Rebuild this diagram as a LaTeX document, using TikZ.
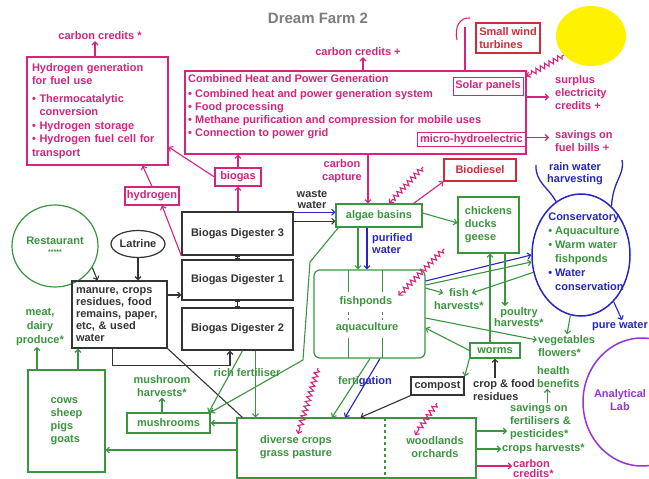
\documentclass[tikz,border=0pt]{standalone}
\usepackage{fontspec}
\setmainfont{Liberation Sans}
\usetikzlibrary{arrows.meta,shapes.geometric,decorations.pathmorphing}

\definecolor{fpink}{RGB}{214,36,124}
\definecolor{fgreen}{RGB}{58,150,62}
\definecolor{fblue}{RGB}{38,38,196}
\definecolor{fdark}{RGB}{52,52,52}
\definecolor{fred}{RGB}{206,44,58}
\definecolor{fpurple}{RGB}{150,52,214}
\definecolor{fgray}{RGB}{125,125,125}
\definecolor{fsun}{RGB}{255,242,0}

\tikzstyle{tS}=[inner sep=1pt, font=\fontsize{11}{13}\selectfont\bfseries, align=left]
\tikzstyle{pT}=[tS, text=fpink]
\tikzstyle{gT}=[tS, text=fgreen]
\tikzstyle{bT}=[tS, text=fblue]
\tikzstyle{kT}=[tS, text=fdark]
\tikzstyle{pB}=[pT, draw=fpink, line width=1.2pt, inner sep=2pt]
\tikzstyle{gB}=[gT, draw=fgreen, line width=1.2pt, inner sep=2pt]
\tikzstyle{kB}=[kT, draw=fdark, line width=1.4pt, inner sep=2pt]
\tikzstyle{rB}=[tS, text=fred, draw=fred, line width=1.2pt, inner sep=2pt]
\tikzstyle{arr}=[line width=1.1pt, -{Straight Barb[length=3pt,width=6pt]}]
\tikzstyle{pA}=[arr, draw=fpink]
\tikzstyle{gA}=[arr, draw=fgreen]
\tikzstyle{bA}=[arr, draw=fblue]
\tikzstyle{kA}=[arr, draw=fdark]
\tikzstyle{kL}=[line width=1.1pt, draw=fdark]
\tikzstyle{zA}=[pA, decorate, decoration={zigzag, segment length=5pt, amplitude=2.5pt, pre length=2pt, post length=5pt}]

\begin{document}
\begin{tikzpicture}[x=1pt,y=-1pt]
\useasboundingbox (0,0) rectangle (649,479);
\fill[white] (0,0) rectangle (649,479);
\clip (0,0) rectangle (649,479);

% title
\draw (318,18) node[tS, text=fgray, font=\fontsize{15}{18}\selectfont\bfseries] (title) {Dream Farm 2};

% hydrogen generation
\draw (100,36) node[pT] (cc1) {carbon credits *};
\draw (97.5,111) node[pB, inner xsep=5pt, text width=131pt, minimum width=141pt, minimum height=108pt, font=\fontsize{11}{13.5}\selectfont\bfseries] (hgen) {Hydrogen generation\\for fuel use\\[4pt]\textbullet\ Thermocatalytic\\\hphantom{\textbullet\ }conversion\\\textbullet\ Hydrogen storage\\\textbullet\ Hydrogen fuel cell for\\transport};

% combined heat and power
\draw (355.5,112.5) node[draw=fpink, line width=1.2pt, minimum width=341pt, minimum height=83pt] (chp) {};
\draw (187,73) node[pT, anchor=north west] (chptxt) {Combined Heat and Power Generation\\[2pt]\textbullet\ Combined heat and power generation system\\\textbullet\ Food processing\\\textbullet\ Methane purification and compression for mobile uses\\\textbullet\ Connection to power grid};
\draw (358,52) node[pT] (cc2) {carbon credits +};
\draw (488,86) node[pB, line width=1pt, minimum width=70pt, minimum height=18pt] (solar) {Solar panels};
\draw (471.5,139.5) node[pB, line width=1pt, inner ysep=0pt, minimum width=109pt, minimum height=14pt] (micro) {micro-hydroelectric};

% wind and sun
\draw (508,38) node[rB, minimum width=64pt, minimum height=30pt] (wind) {Small wind\\turbines};
\draw (591,36) node[ellipse, fill=fsun, minimum width=70pt, minimum height=60pt] (sun) {};
\draw (554,93) node[pT, anchor=west] (surplus) {surplus\\electricity\\credits +};
\draw (554,141.5) node[pT, anchor=west] (fuel) {savings on\\fuel bills +};
\coordinate (mast) at (465,27);
\draw[fpink, line width=1.1pt] ([xshift=109.5pt]chp.north) -- (mast);
\draw[fpink, line width=1.1pt] (470,18) .. controls (460,17) and (454,27) .. (457,40);

% biogas, hydrogen, biodiesel
\draw (480,170) node[rB, minimum width=72pt, minimum height=22pt] (bio) {Biodiesel};
\draw (342,171) node[pT, align=center] (capt) {carbon\\capture};
\draw (238,177) node[pB, minimum width=46pt, minimum height=18pt] (biogas) {biogas};
\draw (152,196) node[pB, minimum width=50pt, minimum height=18pt] (hyd) {hydrogen};

% digesters
\draw (237.5,233.5) node[kB, minimum width=111pt, minimum height=43pt] (bd3) {Biogas Digester 3};
\draw (237.5,280) node[kB, minimum width=111pt, minimum height=40pt] (bd1) {Biogas Digester 1};
\draw (237.5,329) node[kB, minimum width=111pt, minimum height=42pt] (bd2) {Biogas Digester 2};
\draw (312,199) node[kT, align=center, font=\fontsize{11}{11}\selectfont\bfseries] (waste) {waste\\water};

% algae and fishponds
\draw (379,215.5) node[gB, minimum width=86pt, minimum height=23pt] (algae) {algae basins};
\draw (371,244) node[bT, anchor=west, font=\fontsize{11}{12}\selectfont\bfseries] (pur) {purified\\water};
\draw (369.5,314) node[draw=fgreen, line width=1.2pt, rounded corners=6pt, minimum width=111pt, minimum height=88pt] (fish) {};
\draw (366,302) node[gT] (fp1) {fishponds};
\draw (367,328) node[gT] (fp2) {aquaculture};
\draw[fgreen, line width=1pt] (348,270) -- (348,292) (382,270) -- (382,292);
\draw[fgreen, line width=1pt, dashed] (348,312) -- (348,320) (382,312) -- (382,320);
\draw[fgreen, line width=1pt] (348,338) -- (348,358) (382,338) -- (382,358);

% restaurant, latrine, manure
\draw (55,246) node[ellipse, draw=fgreen, line width=1.2pt, minimum width=86pt, minimum height=82pt, gT, align=center] (rest) {Restaurant\\[-3pt]{\scriptsize *****}};
\draw (138,244) node[ellipse, draw=fdark, line width=1.2pt, minimum width=54pt, minimum height=27pt, kT, inner sep=0pt] (latr) {Latrine};
\draw (119.5,314.5) node[kB, inner xsep=4pt, text width=87pt, minimum width=95pt, minimum height=67pt, font=\fontsize{11}{12}\selectfont\bfseries] (manure) {manure, crops\\residues, food\\remains, paper,\\etc, \& used\\water};

% animals and mushrooms
\draw (66.5,421) node[gB, minimum width=77pt, minimum height=102pt] (cows) {cows\\sheep\\pigs\\goats};
\draw (40,327) node[gT, align=center, font=\fontsize{11}{14}\selectfont\bfseries] (meat) {meat,\\dairy\\produce*};
\draw (168.5,423) node[gB, minimum width=83pt, minimum height=20pt] (mush) {mushrooms};
\draw (162,386) node[gT, align=center] (mharv) {mushroom\\harvests*};
\draw (247,373) node[gT] (rich) {rich fertiliser};

% crops
\draw (356.5,448) node[draw=fgreen, line width=1.2pt, minimum width=239pt, minimum height=60pt] (crops) {};
\draw[fgreen, line width=1.2pt, dashed] (385,418) -- (385,478);
\draw (296,447) node[gT, align=center] (div) {diverse crops\\grass pasture};
\draw (435,447) node[gT, align=center] (wood) {woodlands\\orchards};
\draw (365,382) node[tS] (fert) {\textcolor{fgreen}{ferti}\textcolor{fblue}{gation}};
\draw (437.5,386) node[kB, minimum width=53pt, minimum height=18pt] (comp) {compost};
\draw (472,390) node[kT, anchor=west] (resid) {crop \& food\\residues};
\draw (495,350.5) node[gB, inner ysep=0pt, minimum width=50pt, minimum height=15pt] (worms) {worms};

% chickens
\draw (488.5,225) node[gB, minimum width=61pt, minimum height=56pt] (chick) {chickens\\ducks\\geese};
\draw (459,299) node[gT, align=center] (fishh) {fish\\harvests*};
\draw (519,317) node[gT, align=center, font=\fontsize{11}{11.5}\selectfont\bfseries] (poul) {poultry\\harvests*};

% conservatory
\draw (581,255) node[ellipse, draw=fblue, line width=1.5pt, minimum width=98pt, minimum height=122pt] (cons) {};
\draw (586,252) node[tS, font=\fontsize{11}{14}\selectfont\bfseries] (constxt) {\textcolor{fblue}{Conservatory}\\\textcolor{fgreen}{\textbullet\ Aquaculture}\\\textcolor{fgreen}{\textbullet\ Warm water}\\\textcolor{fgreen}{\hphantom{\textbullet\ }fishponds}\\\textcolor{fblue}{\textbullet\ Water}\\\textcolor{fblue}{\hphantom{\textbullet\ }conservation}};
\draw (575,174) node[bT, align=center, font=\fontsize{11}{12}\selectfont\bfseries] (rain) {rain water\\harvesting};
\coordinate (gutL) at (536,165);
\coordinate (gutR) at (622,160);
\draw[fblue, line width=1.3pt] (gutL) .. controls (535,182) and (549,188) .. (cons.115);
\draw[fblue, line width=1.3pt] (gutR) .. controls (625,175) and (613,180) .. (cons.58);
\draw (620,326) node[bT] (pure) {pure water};
\draw (537,346) node[gT, anchor=west] (veg) {vegetables\\flowers*};
\draw (536,377) node[gT, anchor=west] (health) {health\\benefits};
\draw (509,422) node[gT, anchor=west] (sav) {savings on\\fertilisers \&\\pesticides*};
\draw (501,449) node[gT, anchor=west] (charv) {crops harvests*};
\draw (512,469) node[pT, anchor=west, font=\fontsize{11}{10}\selectfont\bfseries] (cc3) {carbon\\credits*};

% analytical lab
\draw (642,402) node[ellipse, draw=fpurple, line width=1.5pt, minimum width=118pt, minimum height=128pt] (lab) {};
\draw (620,400) node[tS, text=fpurple, align=center] (labtxt) {Analytical\\Lab};

% pink connectors
\draw[pA] ([xshift=-2.5pt]hgen.north) -- ([xshift=-2.5pt]hgen.north |- cc1.south);
\draw[pA] ([xshift=7.5pt]chp.north) -- ([xshift=7.5pt]chp.north |- cc2.south);
\draw[pA, shorten >=5pt] ([yshift=15.5pt]chp.east) -- ([yshift=15.5pt]chp.east -| surplus.west);
\draw[pA, shorten >=5pt] ([yshift=2pt]micro.east) -- ([yshift=2pt]micro.east -| fuel.west);
\draw[pA] ([xshift=12.5pt]chp.south) -- ([xshift=12.5pt]chp.south |- algae.north);
\draw[pA] ([xshift=-9pt]algae.north east) -- (bio.south west);
\draw[pA] (biogas.south |- bd3.north) -- (biogas.south);
\draw[pA] (biogas.north) -- (biogas.north |- chp.south);
\draw[pA] (biogas.west) -- ([yshift=-36pt]hgen.east);
\draw[pA] (hyd.north) -- ([xshift=45pt]hgen.south);
\draw[pA] (bd3.south west) -- ([xshift=10pt]hyd.south);
\draw[pA] ([yshift=-18pt]crops.east) -- ([yshift=-18pt]crops.east -| cc3.west);

% sunlight
\coordinate (ray1) at (423,167);
\coordinate (ray2) at (444,249);
\coordinate (ray3) at (318,368);
\coordinate (ray4) at (437,403);
\draw[zA] (sun.215) -- ([xshift=3pt]solar.north east);
\draw[zA] (ray1) -- ([xshift=10pt]algae.north);
\draw[zA] (ray2) -- ([xshift=5pt]fp1.north east);
\draw[zA] (ray3) -- ([xshift=2pt]div.north);
\draw[zA] (ray4) -- ([xshift=-20pt]wood.north);

% dark connectors
\draw[kL, {Bar[width=5pt]}-{Bar[width=5pt]}] (bd3.south) -- (bd1.north);
\draw[kL, {Bar[width=5pt]}-{Bar[width=5pt]}] (bd1.south) -- (bd2.north);
\draw[bA] ([yshift=-1pt]bd3.north east) -- ([yshift=-1pt]bd3.north east -| algae.west);
\draw[kA] ([yshift=-10pt]bd3.north east) -- ([yshift=-10pt]bd3.north east -| algae.west);
\draw[kA] (rest.-30) -- ([xshift=-22pt]manure.north);
\draw[kA] (latr.south) -- (latr.south |- manure.north);
\draw[kA] ([yshift=19.5pt]manure.east) -- ([yshift=19.5pt]manure.east -| bd1.west);
\draw[kA] ([xshift=-7pt]manure.south) -- ++(0,17) -| ([xshift=-7.5pt]bd2.south);
\draw[kL] (manure.south east) -- ([xshift=6pt]crops.north west);
\draw[kA] (comp.south west) -- ([xshift=4pt]crops.north);
\draw[kA] (worms.south |- resid.north) -- (worms.south);

% green connectors
\draw[gA] ([yshift=2.5pt]algae.east) -- ([yshift=2pt]chick.west);
\draw[gA] ([xshift=-21pt]algae.south) -- ([xshift=-21pt]algae.south |- fish.north);
\draw[bA] ([xshift=-12pt]algae.south) -- ([xshift=-12pt]algae.south |- fish.north);
\draw[gA] ([xshift=3pt]algae.south west) -- (310,262) -- (303,360) -- (mush.north east);
\draw[gA] ([xshift=5pt]bd2.south) -- ([xshift=-2pt]mush.north east);
\draw[gA] ([xshift=18pt]bd2.south) -- ([xshift=18pt]bd2.south |- crops.north);
\draw[gA] (crops.west |- mush.east) -- (mush.east);
\draw[gA] ([yshift=-2pt]crops.west) -- ([yshift=-2pt]crops.west -| cows.east);
\draw[gA] ([xshift=-29.5pt]cows.north) -- ([xshift=-29.5pt]cows.north |- meat.south);
\draw[gA] ([xshift=11.5pt]cows.north) -- ([xshift=11.5pt]cows.north |- manure.south);
\draw[gA] ([xshift=-6.5pt]mush.north) -- ([xshift=-6.5pt]mush.north |- mharv.south);
\draw[gA] ([xshift=0.5pt]fish.south) -- ([xshift=-24.5pt]crops.north);
\draw[bA] ([xshift=10.5pt]fish.south) -- ([xshift=-11.5pt]crops.north);
\draw[gA] ([yshift=26pt]fish.east) -- ([xshift=10pt,yshift=6pt]fishh.west);
\draw[bA] ([yshift=33pt]fish.east) -- (cons.west);
\draw[gA] ([yshift=29pt]fish.east) -- (cons.188);
\draw[gA] (cons.200) -- ([xshift=-13pt,yshift=6pt]fishh.east);
\draw[gA] ([yshift=-4pt]fish.east) -- ([yshift=6pt]veg.west);
\draw[gA] (worms.west) -- ([yshift=-14pt]fish.east);
\draw[gA] (worms.south west) -- (comp.north east);
\draw[gA] ([xshift=-5pt]worms.north) -- ([xshift=-5pt]worms.north |- chick.south);
\draw[gA] ([xshift=16.5pt]chick.south) -- ([xshift=16.5pt]chick.south |- poul.north);
\draw[gA] (cons.-100) -- ([xshift=30pt]veg.north west);
\draw[bA] (cons.-55) -- ([xshift=2pt]pure.north);
\draw[gA, shorten >=2pt] ([yshift=17pt]crops.east) -- ([yshift=17pt]crops.east -| sav.west);
\draw[gA] ([yshift=-1pt]crops.east) -- ([yshift=-1pt]crops.east -| charv.west);
\draw[gA] ([xshift=7pt]sav.north) -- ([xshift=7pt]sav.north |- health.south);
\end{tikzpicture}
\end{document}
